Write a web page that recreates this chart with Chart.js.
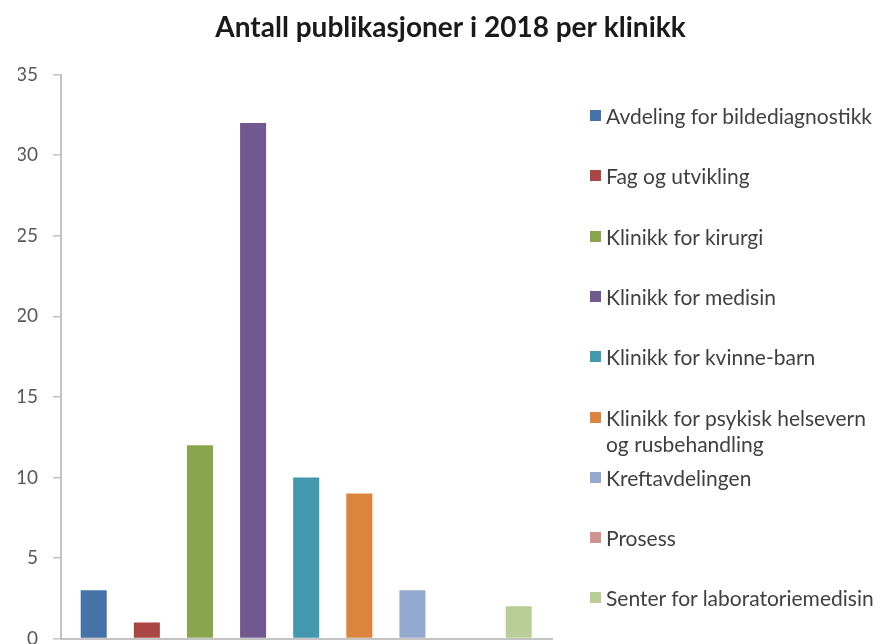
<!DOCTYPE html>
<html lang="no">
<head>
<meta charset="utf-8">
<title>Antall publikasjoner i 2018 per klinikk</title>
<script src="https://cdn.jsdelivr.net/npm/chart.js@4.4.1/dist/chart.umd.min.js"></script>
<style>
  html, body { margin: 0; padding: 0; background: #fff; }
  #wrap { position: relative; width: 883px; height: 644px; overflow: hidden; }
  /* lerretet er litt høyere enn rammen slik at x-aksen havner helt nede */
  #holder { position: absolute; left: 0; top: 0; width: 883px; height: 665px; }
  #legend { position: absolute; left: 590px; top: 0; font-family: Lato, "Noto Sans", sans-serif; font-size: 21px; color: #404040; }
  .item { position: absolute; left: 0; width: 274px; line-height: 26px; padding-left: 16px; white-space: normal; }
  .item .box { position: absolute; left: 0; top: 7px; width: 11px; height: 11px; }
</style>
</head>
<body>
<div id="wrap">
  <div id="holder"><canvas id="chart"></canvas></div>
  <div id="legend"></div>
</div>
<script>
// Klinikker og antall publikasjoner
const categories = [
  'Avdeling for bildediagnostikk',
  'Fag og utvikling',
  'Klinikk for kirurgi',
  'Klinikk for medisin',
  'Klinikk for kvinne-barn',
  'Klinikk for psykisk helsevern og rusbehandling',
  'Kreftavdelingen',
  'Prosess',
  'Senter for laboratoriemedisin'
];
const values = [3, 1, 12, 32, 10, 9, 3, 0, 2];
const colors = ['#4572a7', '#aa4643', '#89a54e', '#71588f', '#4198af', '#db843d', '#93a9cf', '#d19392', '#b9cd96'];

const yMax = 35;
const yStep = 5;

const axisColor = '#c3c3c3';
const tickColor = '#595959';
const fontFamily = 'Lato, "Noto Sans", sans-serif';

const ctx = document.getElementById('chart').getContext('2d');

const chart = new Chart(ctx, {
  type: 'bar',
  data: {
    datasets: [{
      label: 'Antall publikasjoner',
      data: values.map((v, i) => ({ x: i, y: v })),
      backgroundColor: colors,
      borderWidth: 0,
      categoryPercentage: 1,
      barPercentage: 0.49
    }]
  },
  options: {
    responsive: true,
    maintainAspectRatio: false,
    animation: false,
    layout: { padding: { left: 18, right: 0, top: 0, bottom: 0 } },
    plugins: {
      legend: { display: false },
      tooltip: { enabled: false },
      title: {
        display: true,
        text: 'Antall publikasjoner i 2018 per klinikk',
        color: '#1a1a1a',
        font: { family: fontFamily, size: 28, weight: 'bold' },
        padding: { top: 11, bottom: 30 }
      }
    },
    scales: {
      x: {
        type: 'linear',
        offset: false,
        min: -0.616,
        max: 8.627,
        ticks: { display: false },
        grid: { display: false },
        border: { display: true, color: axisColor, width: 2 },
        afterFit: (scale) => { scale.height = 6; }
      },
      y: {
        min: 0,
        max: yMax,
        ticks: {
          stepSize: yStep,
          color: tickColor,
          padding: 15,
          font: { family: fontFamily, size: 19 }
        },
        grid: { drawOnChartArea: false, drawTicks: true, tickLength: 8, color: axisColor, lineWidth: 1.5 },
        border: { display: true, color: axisColor, width: 2 },
        afterFit: (scale) => { scale.width = 43; }
      },
      // tom akse til høyre som holder av plass til legenden
      legendSpace: {
        type: 'linear',
        position: 'right',
        ticks: { display: false },
        grid: { display: false },
        border: { display: false },
        afterFit: (scale) => { scale.width = 331; }
      }
    }
  }
});

// Legende bygget fra kategoriene og fargene
const legend = document.getElementById('legend');
const firstRow = 103;
const rowGap = 60.3;
categories.forEach((name, i) => {
  const item = document.createElement('div');
  item.className = 'item';
  item.style.top = (firstRow + i * rowGap) + 'px';
  const box = document.createElement('span');
  box.className = 'box';
  box.style.background = chart.data.datasets[0].backgroundColor[i];
  item.appendChild(box);
  item.appendChild(document.createTextNode(name));
  legend.appendChild(item);
});
</script>
</body>
</html>
